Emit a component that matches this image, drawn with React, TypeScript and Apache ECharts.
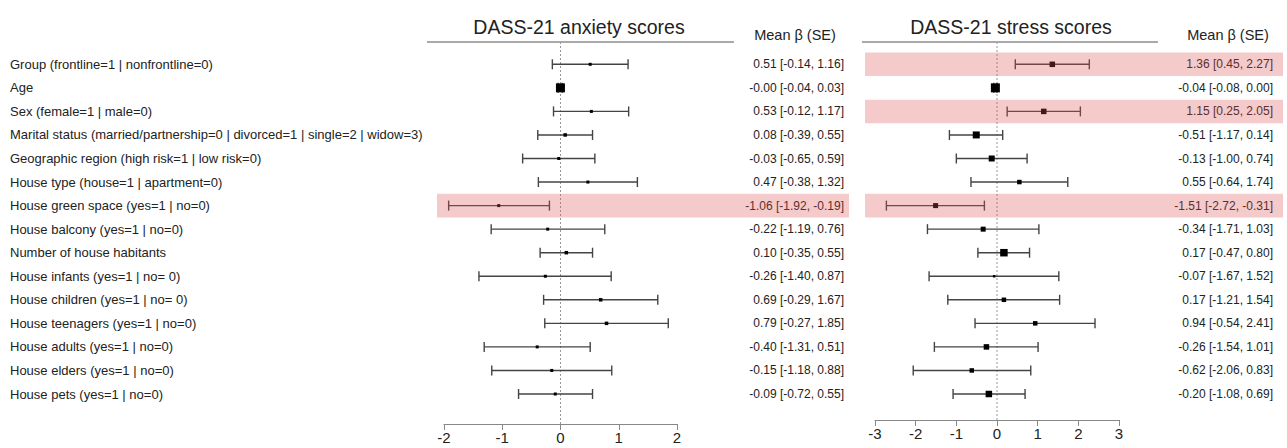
import { useEffect, useRef } from "react";
import * as echarts from "echarts";

const predictors = [
  "Group (frontline=1 | nonfrontline=0)",
  "Age",
  "Sex (female=1 | male=0)",
  "Marital status (married/partnership=0 | divorced=1 | single=2 | widow=3)",
  "Geographic region (high risk=1 | low risk=0)",
  "House type (house=1 | apartment=0)",
  "House green space (yes=1 | no=0)",
  "House balcony (yes=1 | no=0)",
  "Number of house habitants",
  "House infants (yes=1 | no= 0)",
  "House children (yes=1 | no= 0)",
  "House teenagers (yes=1 | no=0)",
  "House adults (yes=1 | no=0)",
  "House elders (yes=1 | no=0)",
  "House pets (yes=1 | no=0)",
];

const anxMean = [0.51, -0.001, 0.53, 0.08, -0.03, 0.47, -1.06, -0.22, 0.1, -0.26, 0.69, 0.79, -0.4, -0.15, -0.09];
const anxLow = [-0.14, -0.04, -0.12, -0.39, -0.65, -0.38, -1.92, -1.19, -0.35, -1.4, -0.29, -0.27, -1.31, -1.18, -0.72];
const anxHigh = [1.16, 0.03, 1.17, 0.55, 0.59, 1.32, -0.19, 0.76, 0.55, 0.87, 1.67, 1.85, 0.51, 0.88, 0.55];
const anxWeight = [3, 9, 3, 3.5, 3, 3, 3, 3, 3.5, 3, 3.5, 3.5, 3, 3, 3];

const strMean = [1.36, -0.04, 1.15, -0.51, -0.13, 0.55, -1.51, -0.34, 0.17, -0.07, 0.17, 0.94, -0.26, -0.62, -0.2];
const strLow = [0.45, -0.08, 0.25, -1.17, -1.0, -0.64, -2.72, -1.71, -0.47, -1.67, -1.21, -0.54, -1.54, -2.06, -1.08];
const strHigh = [2.27, 0.0, 2.05, 0.14, 0.74, 1.74, -0.31, 1.03, 0.8, 1.52, 1.54, 2.41, 1.01, 0.83, 0.69];
const strWeight = [5.5, 9, 5.5, 7, 6, 4.5, 5, 5, 7.5, 2.5, 4.5, 4.5, 5.5, 4.5, 6.5];

const anxTicks = [-2, -1, 0, 1, 2];
const strTicks = [-3, -2, -1, 0, 1, 2, 3];

const fmt = (v: number) => v.toFixed(2);
const labelText = (m: number[], lo: number[], hi: number[]) =>
  m.map((v, i) => `${fmt(v)} [${fmt(lo[i])}, ${fmt(hi[i])}]`);
const sigRows = (lo: number[], hi: number[]) =>
  lo.map((l, i) => (l > 0 || hi[i] < 0 ? i : -1)).filter((i) => i >= 0);

const FONT = "Liberation Sans, Arial, Helvetica, sans-serif";
const ROW_H = 23.55;
const GRID_TOP = 64.3 - ROW_H / 2;
const GRID_H = ROW_H * predictors.length;

function forestRender(params: any, api: any) {
  const m = api.value(0);
  const i = api.value(1);
  const lo = api.value(2);
  const hi = api.value(3);
  const w = api.value(4);
  const pLo = api.coord([lo, i]);
  const pHi = api.coord([hi, i]);
  const pM = api.coord([m, i]);
  const cap = 5;
  const st = { stroke: "#444", lineWidth: 1.4 };
  return {
    type: "group",
    children: [
      { type: "line", shape: { x1: pLo[0], y1: pLo[1], x2: pHi[0], y2: pHi[1] }, style: st },
      { type: "line", shape: { x1: pLo[0], y1: pLo[1] - cap, x2: pLo[0], y2: pLo[1] + cap }, style: st },
      { type: "line", shape: { x1: pHi[0], y1: pHi[1] - cap, x2: pHi[0], y2: pHi[1] + cap }, style: st },
      { type: "rect", shape: { x: pM[0] - w / 2, y: pM[1] - w / 2, width: w, height: w }, style: { fill: "#000" } },
    ],
  };
}

function bandRender(left: number, right: number) {
  return (params: any, api: any) => {
    const i = api.value(1);
    const p = api.coord([0, i]);
    const h = api.size([0, 1])[1];
    const cs = params.coordSys;
    return {
      type: "rect",
      shape: { x: cs.x - left, y: p[1] - h / 2, width: cs.width + left + right, height: h },
      style: { fill: "rgba(220,80,80,0.3)" },
    };
  };
}

function refLineRender(above: number, below: number) {
  return (params: any, api: any) => {
    const p = api.coord([0, 0]);
    const cs = params.coordSys;
    return {
      type: "line",
      shape: { x1: p[0], y1: cs.y - above, x2: p[0], y2: cs.y + cs.height + below },
      style: { stroke: "#999", lineWidth: 1, lineDash: [2, 2] },
    };
  };
}

export default function App() {
  const ref = useRef<HTMLDivElement>(null);
  useEffect(() => {
    if (!ref.current) return;
    const chart = echarts.init(ref.current, undefined, { renderer: "svg" });

    const anxData = anxMean.map((v, i) => [v, i, anxLow[i], anxHigh[i], anxWeight[i]]);
    const strData = strMean.map((v, i) => [v, i, strLow[i], strHigh[i], strWeight[i]]);
    const anxSig = sigRows(anxLow, anxHigh).map((i) => [0, i]);
    const strSig = sigRows(strLow, strHigh).map((i) => [0, i]);

    const anxOffset = 424 - (GRID_TOP + GRID_H);
    const strOffset = 420 - (GRID_TOP + GRID_H);

    const xAxisBase = (min: number, max: number, ticks: number[], gridIndex: number, offset: number) => ({
      type: "value",
      gridIndex,
      min,
      max,
      interval: 1,
      offset,
      axisLine: { show: true, lineStyle: { color: "#888", width: 1 } },
      axisTick: { show: true, length: 6, lineStyle: { color: "#888" }, customValues: ticks },
      axisLabel: { fontSize: 15, color: "#222", fontFamily: FONT, margin: 6, customValues: ticks },
      splitLine: { show: false },
    });

    chart.setOption({
      animation: false,
      backgroundColor: "#fff",
      grid: [
        { left: 444, width: 233, top: GRID_TOP, height: GRID_H },
        { left: 875, width: 244, top: GRID_TOP, height: GRID_H },
      ],
      xAxis: [
        xAxisBase(-2, 2, anxTicks, 0, anxOffset),
        xAxisBase(-3, 3, strTicks, 1, strOffset),
      ],
      yAxis: [
        {
          type: "category",
          gridIndex: 0,
          inverse: true,
          data: predictors,
          position: "left",
          axisLine: { show: false },
          axisTick: { show: false },
          axisLabel: { align: "left", margin: 434, fontSize: 13, color: "#222", fontFamily: FONT },
        },
        {
          type: "category",
          gridIndex: 0,
          inverse: true,
          data: labelText(anxMean, anxLow, anxHigh),
          position: "right",
          axisLine: { show: false },
          axisTick: { show: false },
          axisLabel: { align: "right", margin: 167, fontSize: 12, color: "#222", fontFamily: FONT },
        },
        {
          type: "category",
          gridIndex: 1,
          inverse: true,
          data: labelText(strMean, strLow, strHigh),
          position: "right",
          axisLine: { show: false },
          axisTick: { show: false },
          axisLabel: { align: "right", margin: 154, fontSize: 12, color: "#222", fontFamily: FONT },
        },
      ],
      series: [
        {
          type: "custom",
          xAxisIndex: 0,
          yAxisIndex: 0,
          data: [[0, 0]],
          renderItem: refLineRender(GRID_TOP - 42, anxOffset),
          z: 1,
          silent: true,
        },
        {
          type: "custom",
          xAxisIndex: 0,
          yAxisIndex: 0,
          data: anxData,
          encode: { x: [0, 2, 3], y: 1 },
          renderItem: forestRender,
          clip: false,
          z: 3,
        },
        {
          type: "custom",
          xAxisIndex: 0,
          yAxisIndex: 0,
          data: anxSig,
          renderItem: bandRender(7, 849 - 677),
          clip: false,
          z: 10,
          silent: true,
        },
        {
          type: "custom",
          xAxisIndex: 1,
          yAxisIndex: 2,
          data: [[0, 0]],
          renderItem: refLineRender(GRID_TOP - 42, strOffset),
          z: 1,
          silent: true,
        },
        {
          type: "custom",
          xAxisIndex: 1,
          yAxisIndex: 2,
          data: strData,
          encode: { x: [0, 2, 3], y: 1 },
          renderItem: forestRender,
          clip: false,
          z: 3,
        },
        {
          type: "custom",
          xAxisIndex: 1,
          yAxisIndex: 2,
          data: strSig,
          renderItem: bandRender(10, 1283 - 1119),
          clip: false,
          z: 10,
          silent: true,
        },
      ],
      graphic: [
        { type: "line", shape: { x1: 427, y1: 42, x2: 734, y2: 42 }, style: { stroke: "#555", lineWidth: 1 } },
        { type: "line", shape: { x1: 862, y1: 42, x2: 1158, y2: 42 }, style: { stroke: "#555", lineWidth: 1 } },
        {
          type: "text",
          x: 579,
          y: 27,
          style: { text: "DASS-21 anxiety scores", fontSize: 19.5, fontFamily: FONT, fill: "#222", align: "center", verticalAlign: "middle" },
        },
        {
          type: "text",
          x: 1011,
          y: 27,
          style: { text: "DASS-21 stress scores", fontSize: 19.5, fontFamily: FONT, fill: "#222", align: "center", verticalAlign: "middle" },
        },
        {
          type: "text",
          x: 795,
          y: 35,
          style: { text: "Mean β (SE)", fontSize: 14.5, fontFamily: FONT, fill: "#222", align: "center", verticalAlign: "middle" },
        },
        {
          type: "text",
          x: 1228,
          y: 35,
          style: { text: "Mean β (SE)", fontSize: 14.5, fontFamily: FONT, fill: "#222", align: "center", verticalAlign: "middle" },
        },
      ],
    });
    return () => chart.dispose();
  }, []);
  return <div ref={ref} style={{ position: "fixed", left: 0, top: 0, width: 1287, height: 448 }} />;
}
